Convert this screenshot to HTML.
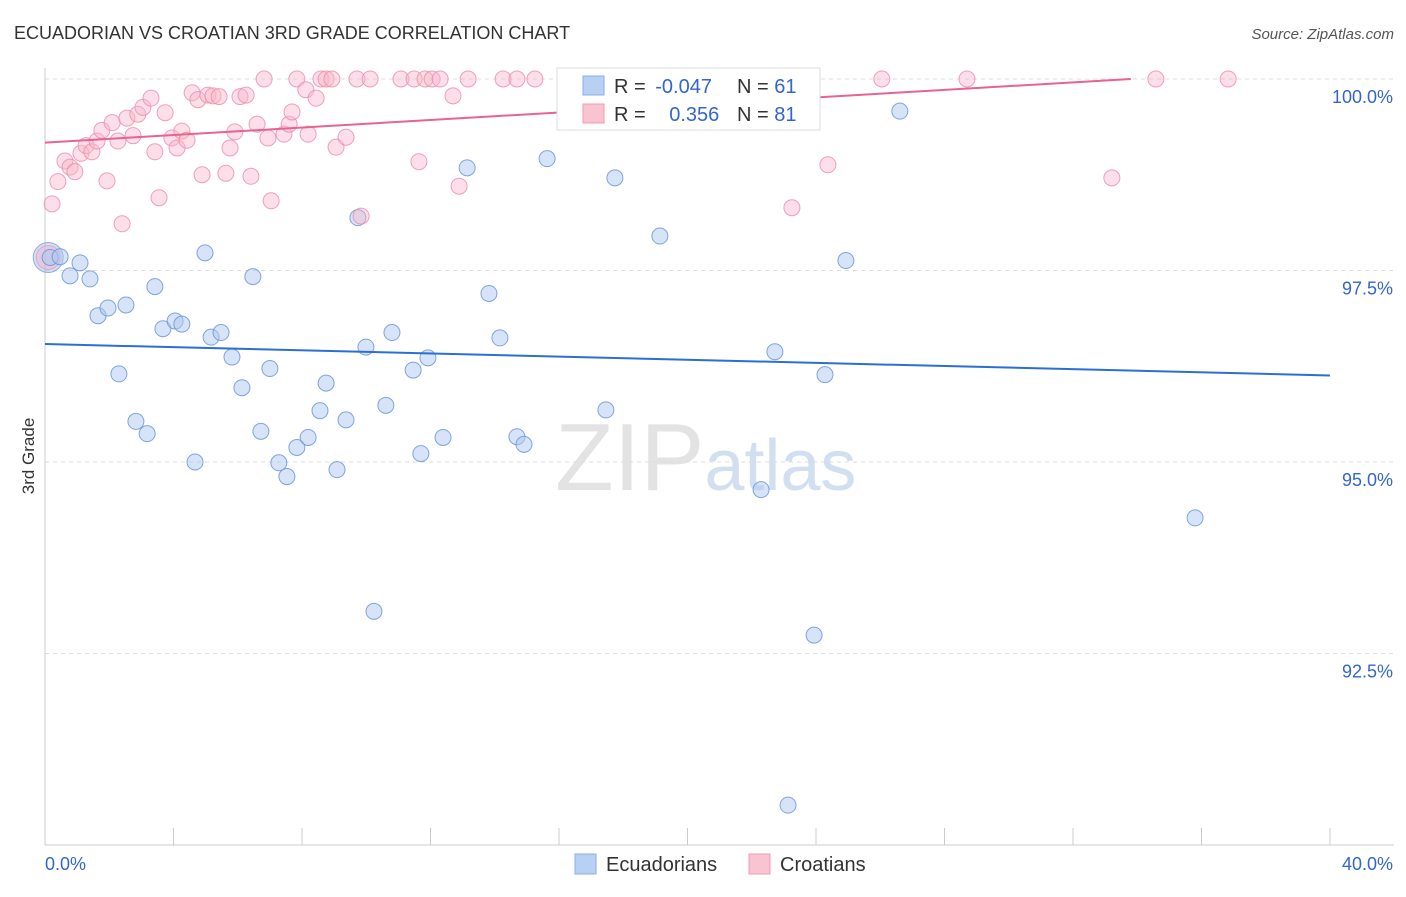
<!DOCTYPE html>
<html><head><meta charset="utf-8"><style>
body{margin:0;background:#fff;font-family:"Liberation Sans",sans-serif;}
svg text{font-family:"Liberation Sans",sans-serif;}
</style></head><body>
<svg id="chart" width="1406" height="892" viewBox="0 0 1406 892" xmlns="http://www.w3.org/2000/svg">
<text x="14" y="39" font-size="18" fill="#333">ECUADORIAN VS CROATIAN 3RD GRADE CORRELATION CHART</text>
<text x="1394" y="39" font-size="15" fill="#555" text-anchor="end" font-style="italic">Source: ZipAtlas.com</text>
<text x="555" y="490" font-size="96" fill="#ddd" font-family="Liberation Serif" opacity="0.8">ZIP<tspan fill="#c8d8ee" font-family="Liberation Sans" font-size="72">atlas</tspan></text>
<g id="grid"></g><g id="axes"></g><g id="marks"></g>
<text transform="translate(34,456) rotate(-90)" font-size="17" fill="#333" text-anchor="middle">3rd Grade</text>
<g>
<rect x="557" y="68" width="263" height="62" fill="#fff" stroke="#ddd"/>
<rect x="583" y="76" width="21" height="19" fill="#b8d0f4" stroke="#8aaee8"/>
<rect x="583" y="104" width="21" height="19" fill="#f9c4d2" stroke="#f09ab2"/>
<text x="614" y="93" font-size="20" fill="#333">R = <tspan fill="#3366cc" dx="4">-0.047</tspan></text>
<text x="737" y="93" font-size="20" fill="#333">N = <tspan fill="#3366cc">61</tspan></text>
<text x="614" y="121" font-size="20" fill="#333">R = <tspan fill="#3366cc" dx="18">0.356</tspan></text>
<text x="737" y="121" font-size="20" fill="#333">N = <tspan fill="#3366cc">81</tspan></text>
</g>
<g>
<rect x="575" y="854" width="21" height="20" fill="#b8d0f4" stroke="#8aaee8"/>
<text x="606" y="871" font-size="20" fill="#333">Ecuadorians</text>
<rect x="749" y="854" width="21" height="20" fill="#f9c4d2" stroke="#f09ab2"/>
<text x="780" y="871" font-size="20" fill="#333">Croatians</text>
</g>
</svg>
<script>
const yTicks=[100,97.5,95,92.5];
const yTickLabels=["100.0%","97.5%","95.0%","92.5%"];
const xTickLabels=["0.0%","40.0%"];
const blueX=[0.16,0.47,0.78,1.09,1.40,1.65,1.96,2.30,2.52,2.83,3.18,3.42,3.67,4.05,4.26,4.67,4.98,5.17,5.48,5.82,6.13,6.47,6.72,7.00,7.28,7.53,7.84,8.19,8.56,8.75,9.09,9.37,9.74,9.99,10.24,10.61,10.80,11.46,11.70,11.92,12.39,13.14,13.82,14.16,14.69,14.91,15.63,17.46,17.74,19.14,21.07,22.29,22.72,23.13,23.94,24.28,24.93,26.61,35.80];
const blueY=[97.67,97.68,97.43,97.60,97.39,96.91,97.01,96.15,97.05,95.53,95.37,97.29,96.74,96.84,96.80,95.00,97.73,96.63,96.69,96.37,95.97,97.42,95.40,96.22,94.99,94.81,95.19,95.32,95.67,96.03,94.90,95.55,98.19,96.50,93.05,95.74,96.69,96.20,95.11,96.36,95.32,98.84,97.20,96.62,95.33,95.23,98.96,95.68,98.71,97.95,99.91,94.64,96.44,90.52,92.74,96.14,97.63,99.58,94.27];
const redX=[0.22,0.40,0.62,0.78,0.93,1.12,1.28,1.46,1.62,1.77,1.93,2.09,2.27,2.40,2.55,2.74,2.89,3.05,3.30,3.42,3.55,3.74,3.95,4.11,4.26,4.42,4.58,4.76,4.89,5.07,5.23,5.42,5.63,5.76,5.91,6.07,6.26,6.41,6.60,6.82,6.94,7.04,7.44,7.60,7.69,7.84,8.12,8.19,8.44,8.59,8.75,8.93,9.06,9.37,9.71,9.84,10.12,11.08,11.49,11.64,11.83,12.05,12.30,12.70,12.89,13.17,14.26,14.69,15.25,17.49,18.46,21.04,22.38,23.25,24.37,26.05,28.70,33.21,34.58,36.83];
const redY=[98.37,98.66,98.93,98.85,98.79,99.03,99.13,99.05,99.19,99.33,98.67,99.43,99.19,98.11,99.49,99.26,99.54,99.63,99.75,99.05,98.45,99.56,99.23,99.10,99.32,99.20,99.82,99.73,98.75,99.79,99.78,99.77,98.77,99.10,99.31,99.77,99.79,98.73,99.41,100,99.23,98.41,99.28,99.41,99.57,100,99.86,99.28,99.75,100,100,100,99.11,99.24,100,98.21,100,100,100,98.92,100,100,100,99.78,98.60,100,100,100,100,100,100,100,100,98.32,98.88,100,100,98.71,100,100];
const blueTrend=[96.54,96.13];
const redTrend=[99.17,100.0];
const redTrendEndX=33.8;
const NS="http://www.w3.org/2000/svg";
const X0=45,X1=1330,YTOP=79,YBOT=845;
function xs(v){return X0+(v/40)*(X1-X0);}
function ys(v){return YTOP+(100-v)/10*(YBOT-YTOP);}
function mk(tag,attrs,parent){const e=document.createElementNS(NS,tag);for(const k in attrs)e.setAttribute(k,attrs[k]);parent.appendChild(e);return e;}
const grid=document.getElementById('grid'),axes=document.getElementById('axes'),marks=document.getElementById('marks');
yTicks.forEach((t,i)=>{
 const l=mk('line',{x1:X0,x2:1394,y1:ys(t),y2:ys(t),stroke:'#ddd','stroke-dasharray':'4,4'},grid);
 
 
 const tx=mk('text',{x:1393,y:ys(t)+24,'font-size':18,fill:'#3366cc','text-anchor':'end'},axes);
 tx.textContent=yTickLabels[i];
 
 
});
const ya=mk('line',{x1:X0,x2:X0,y1:68,y2:YBOT,stroke:'#ccc'},axes);


const xa=mk('line',{x1:X0,x2:1394,y1:YBOT,y2:YBOT,stroke:'#ccc'},axes);


for(let i=1;i<=10;i++){
 const t=mk('line',{x1:xs(i*4),x2:xs(i*4),y1:828,y2:YBOT,stroke:'#ccc'},axes);
 
 
}
[[0,'start',45],[40,'end',1393]].forEach((p,i)=>{
 const tx=mk('text',{x:p[2],y:870,'font-size':18,fill:'#3366cc','text-anchor':p[1]},axes);
 tx.textContent=xTickLabels[i];
 
 
});
const bigB=mk('circle',{cx:xs(0.1),cy:ys(97.67),r:15,fill:'rgba(150,185,235,0.45)',stroke:'rgba(110,150,220,0.7)'},marks);


const bigR=mk('circle',{cx:xs(0.1),cy:ys(97.67),r:12,fill:'rgba(245,170,195,0.35)',stroke:'rgba(235,140,170,0.6)'},marks);


blueX.forEach((v,i)=>{
 const c=mk('circle',{cx:xs(v),cy:ys(blueY[i]),r:8,fill:'rgba(175,200,240,0.5)',stroke:'rgba(100,145,215,0.8)','stroke-width':1},marks);
 
 
});
redX.forEach((v,i)=>{
 const c=mk('circle',{cx:xs(v),cy:ys(redY[i]),r:8,fill:'rgba(248,185,205,0.45)',stroke:'rgba(235,140,170,0.8)','stroke-width':1},marks);
 
 
});
const bl=mk('line',{x1:xs(0),y1:ys(blueTrend[0]),x2:xs(40),y2:ys(blueTrend[1]),stroke:'#2a6fd6','stroke-width':2},marks);


const rl=mk('line',{x1:xs(0),y1:ys(redTrend[0]),x2:xs(redTrendEndX),y2:ys(redTrend[1]),stroke:'#e8638f','stroke-width':2},marks);


</script>
</body></html>
